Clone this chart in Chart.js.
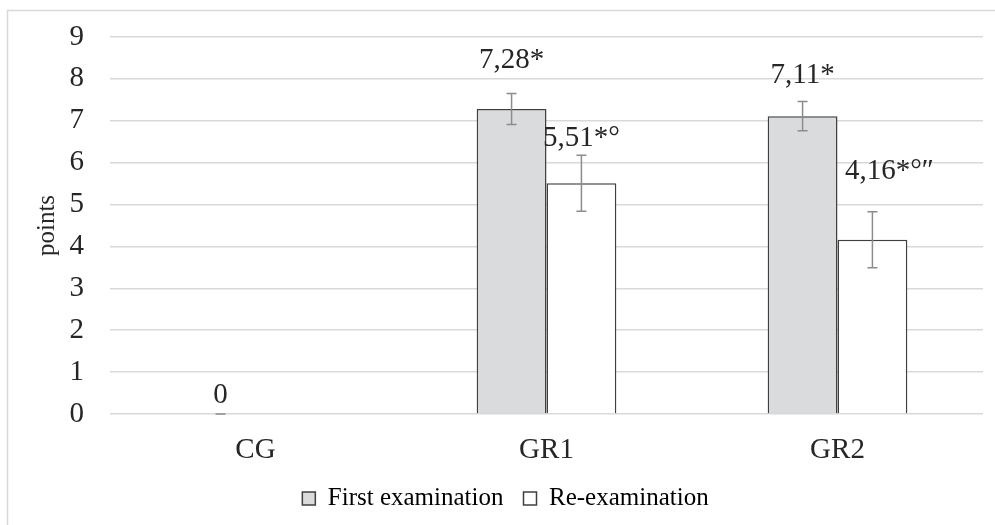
<!DOCTYPE html>
<html>
<head>
<meta charset="utf-8">
<script src="https://cdn.jsdelivr.net/npm/chart.js@4/dist/chart.umd.min.js"></script>
<style>
  html, body { margin: 0; padding: 0; background: #ffffff; }
  #wrap { width: 995px; height: 525px; position: relative; }
</style>
</head>
<body>
<div id="wrap"><canvas id="chart"></canvas></div>
<script>
// data
const groups = ['CG', 'GR1', 'GR2'];
const firstExam = [0, 7.28, 7.11];
const reExam = [null, 5.51, 4.16];
const firstErr = [0, 0.37, 0.35];
const reErr = [null, 0.67, 0.67];
const firstLabels = ['0', '7,28*', '7,11*'];
const reLabels = [null, '5,51*°', '4,16*°″'];
const yTicks = [0, 1, 2, 3, 4, 5, 6, 7, 8, 9];

const serif = "'Liberation Serif', 'Times New Roman', serif";

// label placement tweaks (px above the error bar top, x shift)
const labelLift = [[19, 33, 26], [0, 17, 40]];
const labelShift = [[0, 0, 0], [0, 0, 17]];

const errors = [firstErr, reErr];
const labels = [firstLabels, reLabels];

const frameBox = {
    id: 'frameBox',
    beforeDraw(chart) {
        const ctx = chart.ctx;
        ctx.save();
        ctx.strokeStyle = '#d9d9d9';
        ctx.lineWidth = 1.5;
        ctx.strokeRect(7.5, 10.5, chart.width + 20, chart.height + 20);
        ctx.restore();
    }
};

const errorBars = {
    id: 'errorBars',
    afterDatasetsDraw(chart) {
        const ctx = chart.ctx;
        const y = chart.scales.y;
        ctx.save();
        chart.data.datasets.forEach((ds, di) => {
            const meta = chart.getDatasetMeta(di);
            meta.data.forEach((bar, i) => {
                const v = ds.data[i];
                const e = errors[di][i];
                if (v === null || e === null) return;
                const top = y.getPixelForValue(v + e);
                const bot = y.getPixelForValue(Math.max(0, v - e));
                ctx.strokeStyle = '#8c8c8c';
                ctx.lineWidth = 1.5;
                ctx.beginPath();
                ctx.moveTo(bar.x, top);
                ctx.lineTo(bar.x, bot);
                ctx.moveTo(bar.x - 5, top);
                ctx.lineTo(bar.x + 5, top);
                ctx.moveTo(bar.x - 5, bot);
                ctx.lineTo(bar.x + 5, bot);
                ctx.stroke();

                const txt = labels[di][i];
                if (!txt) return;
                ctx.fillStyle = '#262626';
                ctx.font = '29px ' + serif;
                ctx.textAlign = 'center';
                ctx.textBaseline = 'middle';
                ctx.fillText(txt, bar.x + labelShift[di][i], top - labelLift[di][i]);
            });
        });
        ctx.restore();
    }
};

const data = {
    labels: groups,
    datasets: [
        {
            label: 'First examination',
            data: firstExam,
            backgroundColor: '#dadbdd',
            borderColor: '#404040',
            borderWidth: 1.5,
            borderSkipped: 'bottom',
            categoryPercentage: 0.48,
            barPercentage: 1.0,
        },
        {
            label: 'Re-examination',
            data: reExam,
            backgroundColor: '#ffffff',
            borderColor: '#404040',
            borderWidth: 1.5,
            borderSkipped: 'bottom',
            categoryPercentage: 0.48,
            barPercentage: 1.0,
        },
    ]
};

const config = {
    type: 'bar',
    data: data,
    options: {
        responsive: true,
        maintainAspectRatio: false,
        animation: false,
        layout: {
            padding: { left: 28, right: 12, top: 37, bottom: 4 }
        },
        scales: {
            x: {
                grid: { display: false },
                border: { display: false },
                afterFit: (axis) => { axis.height = 52; },
                ticks: {
                    color: '#262626',
                    font: { family: serif, size: 29 },
                    padding: 11,
                }
            },
            y: {
                min: 0,
                max: 9,
                afterBuildTicks: (axis) => {
                    axis.ticks = yTicks.map(v => ({ value: v }));
                },
                afterFit: (axis) => {
                    axis.width = 82;
                    axis.paddingTop = 0;
                    axis.paddingBottom = 0;
                },
                grid: { color: '#d9d9d9', lineWidth: 1.5, drawTicks: false },
                border: { display: false },
                title: {
                    display: true,
                    text: 'points',
                    color: '#262626',
                    font: { family: serif, size: 25 },
                    padding: { top: 4, bottom: 7 },
                },
                ticks: {
                    color: '#262626',
                    font: { family: serif, size: 29 },
                    padding: 26,
                }
            }
        },
        plugins: {
            legend: {
                position: 'bottom',
                labels: {
                    color: '#262626',
                    font: { family: serif, size: 25 },
                    boxWidth: 13,
                    boxHeight: 13,
                    padding: 20,
                    generateLabels: (chart) => chart.data.datasets.map((ds, i) => ({
                        text: ds.label,
                        fillStyle: ds.backgroundColor,
                        strokeStyle: '#404040',
                        lineWidth: 1.5,
                        datasetIndex: i,
                    })),
                }
            },
            tooltip: { enabled: false },
        },
    },
    plugins: [frameBox, errorBars],
};

new Chart(document.getElementById('chart'), config);
</script>
</body>
</html>
